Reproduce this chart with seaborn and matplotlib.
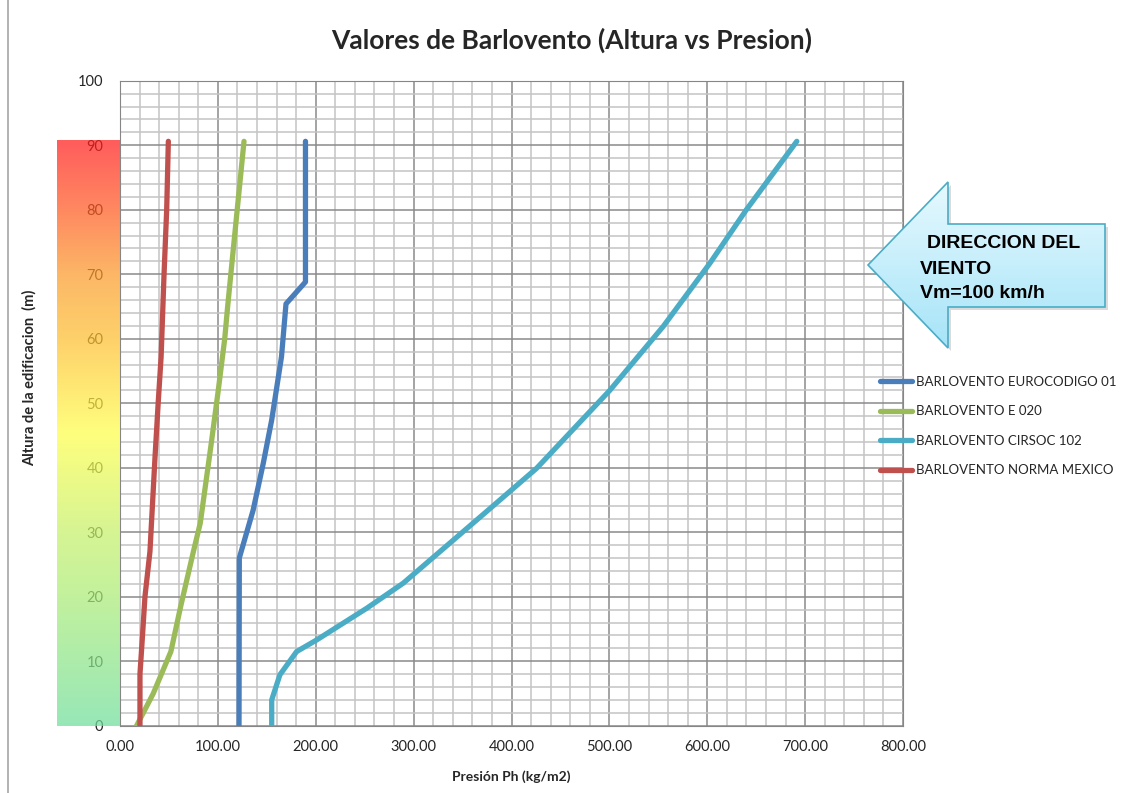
import numpy as np
import pandas as pd
import seaborn as sns
import matplotlib.pyplot as plt
from matplotlib.patches import Polygon
from matplotlib.colors import LinearSegmentedColormap

# datos (altura en m, presion en kg/m2)
h_euro = [0, 26, 33.4, 40.7, 47.4, 57.2, 65.4, 68.8, 90.6]
p_euro = [121.6, 121.9, 136, 146.4, 155, 165, 169.6, 189.5, 189.5]

h_e020 = [0, 5, 11.5, 18.5, 27, 31.4, 43.5, 52, 60, 65, 73.8, 90.6]
p_e020 = [17, 34, 52, 62, 75, 82, 93, 100.4, 107, 110, 115.7, 126.7]

h_cirsoc = [0, 4, 7.9, 11.5, 13.3, 18.2, 22.1, 33.4, 39.9, 52, 61.9, 71.7, 80, 90.6]
p_cirsoc = [155, 155, 163.4, 180.5, 201, 252, 289.4, 376, 425.6, 500.5, 555, 602.7, 640, 691.5]

h_mex = [0, 8, 14, 20, 27, 41.7, 50, 57.2, 70, 80, 90.6]
p_mex = [20.4, 20.4, 23, 25.5, 30.6, 35.8, 39, 42, 45, 47.7, 49.4]

series = ["BARLOVENTO EUROCODIGO 01", "BARLOVENTO E 020",
          "BARLOVENTO CIRSOC 102", "BARLOVENTO NORMA MEXICO"]
colors = ["#4A7EBB", "#9BBB59", "#4BACC6", "#C0504D"]

rows = []
for name, hh, pp in zip(series, [h_euro, h_e020, h_cirsoc, h_mex],
                        [p_euro, p_e020, p_cirsoc, p_mex]):
    for k, (a, b) in enumerate(zip(hh, pp)):
        rows.append({"serie": name, "altura": a, "presion": b, "orden": k})
df = pd.DataFrame(rows)

sns.set_style("white")
plt.rcParams['font.family'] = ['Lato', 'DejaVu Sans']

fig = plt.figure(figsize=(11.31, 7.93), dpi=100)
ax = fig.add_axes([120/1131, 1-725.7/793, 783/1131, 645/793])

sns.lineplot(data=df, x="presion", y="altura", hue="serie", hue_order=series,
             palette=colors, sort=False, estimator=None, linewidth=3.8,
             solid_capstyle="round", solid_joinstyle="round", ax=ax)

ax.set_xlim(0, 800)
ax.set_ylim(0, 100)
ax.set_xticks(np.arange(0, 801, 100))
ax.set_xticks(np.arange(0, 801, 20), minor=True)
ax.set_yticks(np.arange(0, 101, 10))
ax.set_yticks(np.arange(0, 101, 2), minor=True)
ax.set_xticklabels([f"{v:.2f}" for v in np.arange(0, 801, 100)])
ax.set_axisbelow(True)
ax.grid(which="minor", color="#C4C4C4", linewidth=1.1)
ax.grid(which="major", color="#8A8A8A", linewidth=1.1)
ax.tick_params(which="major", direction="out", length=6, width=1, color="#868686",
               labelsize=10.5, pad=4)
ax.tick_params(which="minor", length=0)
ax.tick_params(axis="y", pad=6)
for s in ax.spines.values():
    s.set_color("#868686")
    s.set_visible(True)

ax.set_xlabel("Presión Ph (kg/m2)", fontsize=10, fontweight="bold", labelpad=12)
ax.set_ylabel("Altura de la edificacion  (m)", fontsize=10.5, fontweight="bold")
ax.yaxis.set_label_coords(-0.106, 0.54)

# barra de color detras de las etiquetas del eje y
stops = [(0.0, "#6FDE9B"), (0.22, "#ABEC77"), (0.33, "#C6F169"), (0.5, "#FFFF4A"),
         (0.66, "#FEBF30"), (0.77, "#FC9B2A"), (0.88, "#FF5B22"), (1.0, "#FF1C1C")]
cmap = LinearSegmentedColormap.from_list("alt", stops)
grad = np.linspace(1, 0, 256).reshape(-1, 1)
ax.imshow(grad, cmap=cmap, extent=(-64, 0, 0, 90.7), aspect="auto",
          alpha=0.72, zorder=10, clip_on=False, origin="upper")
ax.set_xlim(0, 800)
ax.set_ylim(0, 100)

leg = ax.legend(loc="upper left", bbox_to_anchor=(880/1131, 1-376/793),
                bbox_transform=fig.transFigure, frameon=False, fontsize=9.5,
                handlelength=2.4, handletextpad=0.35, labelspacing=1.32,
                borderpad=0, borderaxespad=0)

fig.text(572/1131, 1-40/793, "Valores de Barlovento (Altura vs Presion)",
         ha="center", va="center", fontsize=19, fontweight="bold")

# flecha de direccion del viento (coordenadas en pixeles)
ov = fig.add_axes([0, 0, 1, 1], zorder=5)
ov.set_xlim(0, 1131)
ov.set_ylim(793, 0)
ov.axis("off")
ov.patch.set_alpha(0)
arrow = [(868, 265), (948, 182), (948, 224), (1105, 224), (1105, 307),
         (948, 307), (948, 348)]
shadow = Polygon([(x + 3, y + 3) for x, y in arrow], closed=True,
                 facecolor="#B0B0B0", edgecolor="none", alpha=0.45)
ov.add_patch(shadow)
poly = Polygon(arrow, closed=True, facecolor="none", edgecolor="#4BACC6", linewidth=1.2)
ov.add_patch(poly)
acmap = LinearSegmentedColormap.from_list("arr", ["#E6F9FF", "#A6E4F8"])
img = ov.imshow(np.linspace(0, 1, 128).reshape(-1, 1), cmap=acmap,
                extent=(868, 1105, 348, 182), aspect="auto", origin="upper", zorder=1)
img.set_clip_path(poly)
poly.set_zorder(2)
ov.set_xlim(0, 1131)
ov.set_ylim(793, 0)
fam = ["Liberation Sans", "DejaVu Sans"]
ov.text(927, 243, "DIRECCION DEL", fontsize=14, fontweight="bold", va="center",
        ha="left", family=fam, color="black", zorder=3)
ov.text(920, 269, "VIENTO", fontsize=14, fontweight="bold", va="center",
        ha="left", family=fam, color="black", zorder=3)
ov.text(920, 294, "Vm=100 km/h", fontsize=14, fontweight="bold", va="center",
        ha="left", family=fam, color="black", zorder=3)
ov.plot([8, 8], [0, 793], color="#A6A6A6", linewidth=1.2)

fig.savefig("out.png", dpi=100)
